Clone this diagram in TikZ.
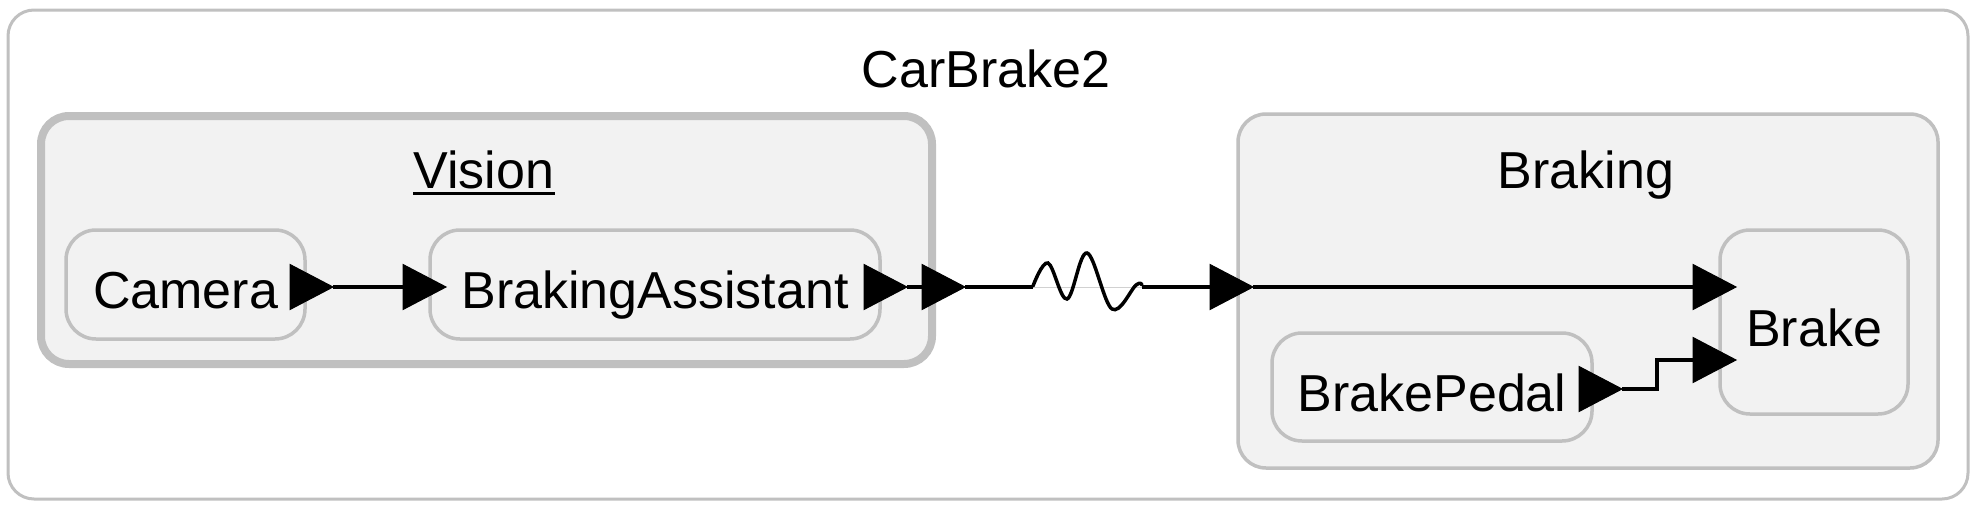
\documentclass[tikz,border=0pt]{standalone}
\usepackage{fontspec}
\setmainfont{Liberation Sans}
\usepackage{tikz}

\definecolor{boxfill}{HTML}{F2F2F2}
\definecolor{boxline}{HTML}{C0C0C0}

% port triangle: name, x of base, y
\newcommand{\port}[3]{%
  \filldraw[black, line width=1pt] (#2,#3-22.5) -- (#2+43,#3) -- (#2,#3+22.5) -- cycle;
  \coordinate (#1-b) at (#2,#3);
  \coordinate (#1-t) at (#2+43,#3);}

\begin{document}
\begin{tikzpicture}[x=1pt, y=-1pt,
  box/.style={draw=boxline, fill=boxfill, line width=3.5pt, rounded corners=30pt, inner sep=0pt,
    text height=48pt, text depth=0pt, font=\fontsize{52}{62}\selectfont},
  group/.style={draw=boxline, fill=boxfill, line width=3.5pt, rounded corners=28pt, inner sep=0pt},
  lbl/.style={anchor=base, inner sep=0pt, font=\fontsize{52}{62}\selectfont},
  wire/.style={black, line width=4pt}]
\useasboundingbox (0,0) rectangle (1980,506);

%CarBrake2
\node[draw=boxline, fill=white, line width=3pt, rounded corners=26pt, minimum width=1960pt, minimum height=489pt] (car) at (988,254.5) {};
\node[lbl] (cartxt) at (986,87) {CarBrake2};

%Vision
\node[group, line width=8pt, minimum width=891pt, minimum height=248pt] (vision) at (486.5,240) {};
\node[lbl] (visiontxt) at (484,188) {Vision};
\draw[black, line width=3pt] ([yshift=-5pt]visiontxt.base west) -- ([yshift=-5pt]visiontxt.base east);
\node[box, minimum width=239pt, minimum height=109pt] (camera) at (185.5,284.5) {Camera};
\node[box, minimum width=450pt, minimum height=109pt] (assist) at (655,284.5) {BrakingAssistant};

%Braking
\node[group, minimum width=700pt, minimum height=354pt] (braking) at (1588,291) {};
\node[lbl] (brakingtxt) at (1586,188) {Braking};
\node[box, minimum width=320pt, minimum height=108pt] (pedal) at (1432,387) {BrakePedal};
\node[box, minimum width=188pt, minimum height=184pt] (brake) at (1814,322) {Brake};

%ports
\port{camout}{290}{287}
\port{assistin}{403}{287}
\port{assistout}{864}{287}
\port{visionout}{922}{287}
\port{brakingin}{1210}{287}
\port{brakein}{1693}{287}
\port{pedalout}{1579}{389}
\port{brakeinb}{1693}{360}

%wires
\coordinate (wavein) at (1033,287);
\coordinate (waveout) at (1142,287);
\draw[wire] (camout-t) -- (assistin-b);
\draw[wire] (assistout-t) -- (visionout-b);
\draw[wire] (visionout-t) -- (wavein);
\draw[black!18, line width=1pt] (wavein) -- (waveout);
\draw[black, line width=3.5pt, line cap=round] plot[smooth, tension=0.6] coordinates {(1033,286) (1048,263) (1067,299) (1087,253) (1112,309) (1136,285) (1142,285)};
\draw[wire] (waveout) -- (brakingin-b);
\draw[wire] (brakingin-t) -- (brakein-b);
\draw[wire] (pedalout-t) -- ++(35,0) |- (brakeinb-b);
\end{tikzpicture}
\end{document}
